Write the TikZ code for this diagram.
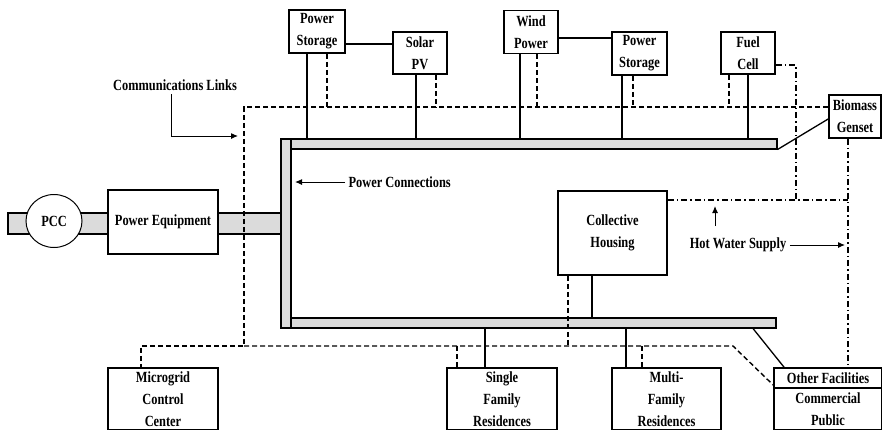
\documentclass[tikz,border=0pt]{standalone}
\usepackage{fontspec}
\setmainfont{Liberation Serif}[FakeStretch=0.8]
\usetikzlibrary{shapes.geometric,arrows.meta}
\begin{document}
\begin{tikzpicture}[x=1pt,y=-1pt,
  font=\fontsize{15.5}{22}\selectfont\bfseries,
  box/.style={draw, line width=1.7pt, fill=white, align=center, inner sep=1pt},
  powline/.style={line width=1.3pt},
  commline/.style={line width=1.4pt, dash pattern=on 5pt off 3pt},
  hwline/.style={line width=1.3pt, dash pattern=on 6pt off 3pt on 1.5pt off 3pt},
  busbar/.style={draw, line width=1.5pt, fill=black!14, inner sep=0pt, anchor=north west},
  arr/.style={line width=1pt, -{Latex[length=7pt,width=6pt]}}]
\useasboundingbox (0,0) rectangle (882,429);
\clip (0,0) rectangle (882,429);

% buses
\node[busbar, minimum width=273, minimum height=21] (lbus) at (7,212) {};
\node[busbar, minimum width=10, minimum height=189] (vbus) at (280,138) {};
\node[busbar, minimum width=486, minimum height=10] (tbus) at (290,138) {};
\node[busbar, minimum width=485, minimum height=10] (bbus) at (290,317) {};

% left side
\node[draw, ellipse, line width=1pt, fill=white, minimum width=56, minimum height=53, inner sep=0pt] (pcc) at (54,221) {PCC};
\node[box, minimum width=110, minimum height=64] (peq) at (163,222) {Power Equipment};

% top boxes
\node[box, minimum width=56, minimum height=43] (ps1) at (317,31.5) {Power\\Storage};
\node[box, minimum width=54, minimum height=42] (solar) at (420,53) {Solar\\PV};
\node[box, minimum width=54, minimum height=43] (wind) at (531,32) {Wind\\Power};
\node[box, minimum width=55, minimum height=43] (ps2) at (639.5,53.5) {Power\\Storage};
\node[box, minimum width=54, minimum height=42] (fuel) at (748,53) {Fuel\\Cell};
\node[box, minimum width=52, minimum height=43] (bio) at (855,116.5) {Biomass\\Genset};

% middle
\node[box, minimum width=109, minimum height=84] (coll) at (612.5,233) {Collective\\Housing};

% bottom boxes
\node[box, minimum width=110, minimum height=62] (mcc) at (163,399) {Microgrid\\Control\\Center};
\node[box, minimum width=110, minimum height=62] (sfr) at (502,399) {Single\\Family\\Residences};
\node[box, minimum width=109, minimum height=62] (mfr) at (666.5,399) {Multi-\\Family\\Residences};
\node[box, minimum width=108, minimum height=62] (ofc) at (828,399) {};
\node (oft) at (828,378) {Other Facilities};
\node[align=center] (ofb) at (828,409.5) {Commercial\\Public};
\draw[line width=1.3pt] (ofc.west |- 0,388) -- (ofc.east |- 0,388);

% power connections (solid)
\draw[powline] (ps1.east |- 0,44) -- (solar.west |- 0,44);
\draw[powline] (wind.east |- 0,38) -- (ps2.west |- 0,38);
\draw[powline] (ps1.south -| 307,0) -- (tbus.north -| 307,0);
\draw[powline] (solar.south -| 416,0) -- (tbus.north -| 416,0);
\draw[powline] (wind.south -| 520,0) -- (tbus.north -| 520,0);
\draw[powline] (ps2.south -| 622,0) -- (tbus.north -| 622,0);
\draw[powline] (fuel.south -| 748,0) -- (tbus.north -| 748,0);
\draw[powline] (tbus.south east) -- (bio.west |- 0,119);
\draw[powline] (coll.south -| 592,0) -- (bbus.north -| 592,0);
\draw[powline] (bbus.south -| 485,0) -- (sfr.north -| 485,0);
\draw[powline] (bbus.south -| 626,0) -- (mfr.north -| 626,0);
\draw[powline] (bbus.south -| 753,0) -- (ofc.north -| 784,0);

% communication links (dashed)
\coordinate (ct) at (244,107);
\coordinate (cb) at (244,346);
\draw[commline] (bio.west |- ct) -- (ct) -- (cb) -- (141,346) -- (mcc.north -| 141,0);
\draw[commline] (cb) -- (733,346) -- (ofc.west |- 0,385);
\draw[commline] (ps1.south -| 327,0) -- (ct -| 327,0);
\draw[commline] (solar.south -| 436,0) -- (ct -| 436,0);
\draw[commline] (wind.south -| 537,0) -- (ct -| 537,0);
\draw[commline] (ps2.south -| 633,0) -- (ct -| 633,0);
\draw[commline] (fuel.south -| 729,0) -- (ct -| 729,0);
\draw[commline] (coll.south -| 568,0) -- (cb -| 568,0);
\draw[commline] (cb -| 457,0) -- (sfr.north -| 457,0);
\draw[commline] (cb -| 642,0) -- (mfr.north -| 642,0);

% hot water (dash-dot)
\draw[hwline] (fuel.east |- 0,65) -| (796,200);
\draw[hwline] (coll.east |- 0,200) -- (848,200);
\draw[hwline] (bio.south -| 848,0) -- (848,364);

% labels
\node (cl) at (175,85) {Communications Links};
\draw[arr] (cl.south -| 171,0) |- (238,136);
\node[anchor=west] (pc) at (345,182) {Power Connections};
\draw[arr] (pc.west) -- (295,182);
\node (hws) at (738,245) {Hot Water Supply};
\draw[arr] (715,226) -- (715,206);
\draw[arr] (hws.east) -- (845,245);
\end{tikzpicture}
\end{document}
